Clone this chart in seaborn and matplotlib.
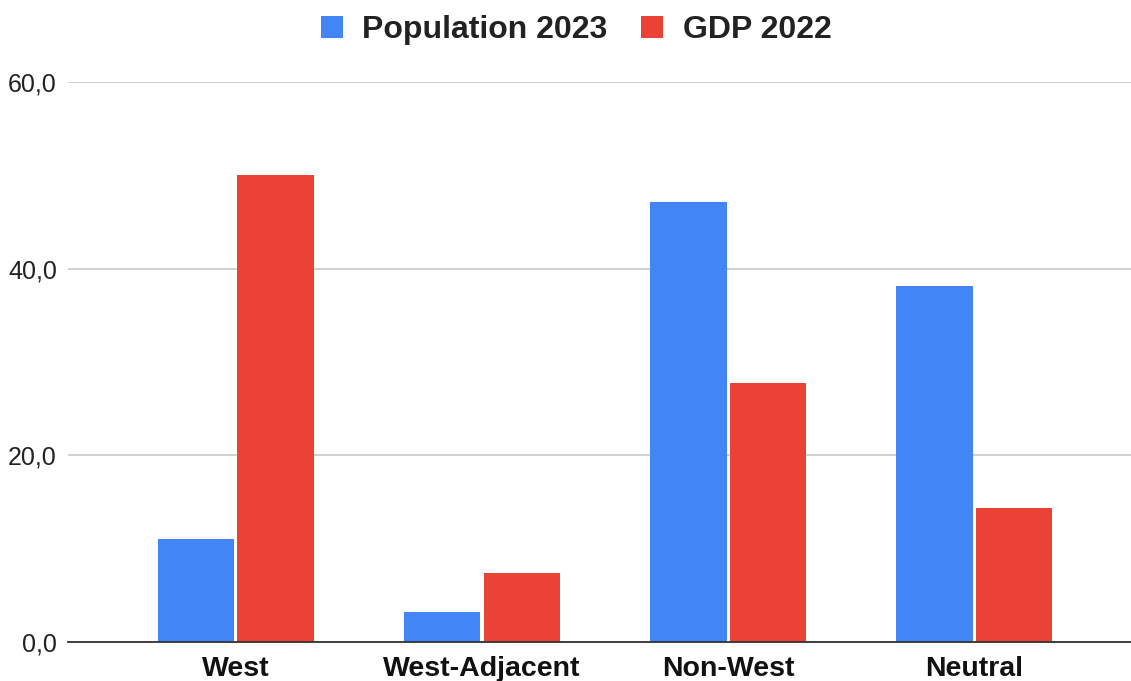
import matplotlib
matplotlib.use("Agg")
import matplotlib.pyplot as plt
import seaborn as sns
import pandas as pd
from matplotlib.patches import Patch
from matplotlib.ticker import FuncFormatter

categories = ["West", "West-Adjacent", "Non-West", "Neutral"]
population_2023 = [11.0, 3.2, 47.1, 38.1]
gdp_2022 = [50.0, 7.4, 27.8, 14.4]
series_names = ["Population 2023", "GDP 2022"]
y_ticks = [0, 20, 40, 60]

colors = {"Population 2023": "#4285F4", "GDP 2022": "#EA4335"}

df = pd.DataFrame({
    "category": categories * 2,
    "series": [series_names[0]] * len(categories) + [series_names[1]] * len(categories),
    "value": population_2023 + gdp_2022,
})

sns.set_style("white")
plt.rcParams['font.family'] = ['Liberation Sans', 'DejaVu Sans']

fig = plt.figure(figsize=(11.31, 6.81), dpi=100)
ax = fig.add_axes([68 / 1131, 39 / 681, (1131 - 68) / 1131, 560 / 681])

sns.barplot(data=df, x="category", y="value", hue="series", order=categories,
            hue_order=series_names, palette=colors, width=0.645, gap=0.04,
            saturation=1, ax=ax, legend=False, edgecolor="none")

ax.set_xlim(-0.682, 3.637)
ax.set_ylim(0, 60)
ax.set_yticks(y_ticks)
ax.yaxis.set_major_formatter(FuncFormatter(lambda v, p: f"{v:.1f}".replace(".", ",")))
ax.grid(axis="y", color="#cccccc", linewidth=1.3)
ax.set_axisbelow(True)
for s in ["top", "right", "left"]:
    ax.spines[s].set_visible(False)
ax.spines["bottom"].set_color("#333333")
ax.spines["bottom"].set_linewidth(1.3)
ax.spines["bottom"].set_zorder(5)
ax.set_xlabel("")
ax.set_ylabel("")
ax.tick_params(axis="y", length=0, pad=8, labelsize=18, labelcolor="#222222")
ax.tick_params(axis="x", length=0, pad=10, labelsize=20.5)
for lab in ax.get_xticklabels():
    lab.set_fontweight("bold")
    lab.set_color("#111111")

handles = [Patch(facecolor=colors[n], edgecolor="none", label=n) for n in series_names]
leg = fig.legend(handles=handles, loc="center", bbox_to_anchor=(576 / 1131, 1 - 30 / 681), ncol=2,
                 frameon=False, handlelength=0.7, handleheight=0.7, handletextpad=0.6,
                 columnspacing=1.05, prop={"weight": "bold", "size": 23})
for t in leg.get_texts():
    t.set_color("#222222")

fig.savefig("out.png", dpi=100)
